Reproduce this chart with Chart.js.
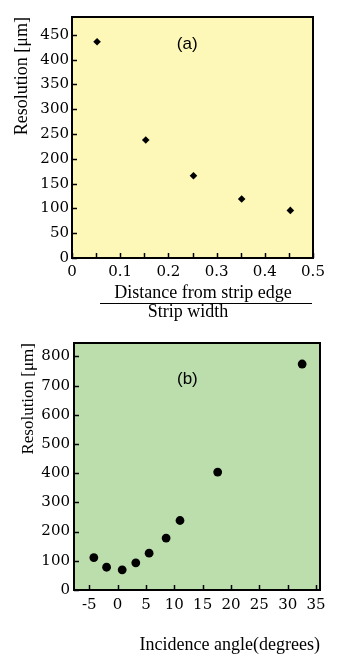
<!DOCTYPE html>
<html>
<head>
<meta charset="utf-8">
<script src="https://cdn.jsdelivr.net/npm/chart.js@4.4.1/dist/chart.umd.min.js"></script>
<style>
  html, body { margin: 0; padding: 0; background: #fff; }
  .panel { position: absolute; left: 0; }
  #edgeChart { top: 0; }
  #angleChart { top: 330px; }
</style>
</head>
<body>
<canvas id="edgeChart" class="panel" width="344" height="330"></canvas>
<canvas id="angleChart" class="panel" width="344" height="326"></canvas>
<script>
// ---- panel (a): resolution vs. distance from strip edge / strip width ----
const edgeX = [0.052, 0.153, 0.252, 0.352, 0.453];
const edgeRes = [436, 238, 166, 119, 96];
const edgeXTicks = [0, 0.05, 0.1, 0.15, 0.2, 0.25, 0.3, 0.35, 0.4, 0.45, 0.5];
const edgeXLabels = ["0", "", "0.1", "", "0.2", "", "0.3", "", "0.4", "", "0.5"];
const edgeYTicks = [0, 50, 100, 150, 200, 250, 300, 350, 400, 450];

// ---- panel (b): resolution vs. incidence angle ----
const angleX = [-4.2, -1.95, 0.8, 3.2, 5.55, 8.55, 11.0, 17.65, 32.55];
const angleRes = [111, 78, 69, 93, 126, 178, 238, 404, 774];
const angleXTicks = [-5, 0, 5, 10, 15, 20, 25, 30, 35];
const angleYTicks = [0, 100, 200, 300, 400, 500, 600, 700, 800];

const tickFont = { family: "'DejaVu Serif'", size: 15 };
const titleFamily = "'Liberation Serif', 'Times New Roman', serif";

// background, boxed frame, inward tick marks and the panel tag
const framePlugin = {
  id: "frame",
  beforeDraw(chart, args, opts) {
    const { ctx, chartArea: a } = chart;
    ctx.save();
    ctx.fillStyle = opts.fill;
    ctx.fillRect(a.left, a.top, a.right - a.left, a.bottom - a.top);
    ctx.restore();
  },
  afterDraw(chart, args, opts) {
    const { ctx, chartArea: a, scales } = chart;
    ctx.save();
    ctx.strokeStyle = "#000";
    ctx.lineWidth = 1.5;
    scales.x.ticks.forEach(function (t) {
      const px = Math.round(scales.x.getPixelForValue(t.value)) + 0.5;
      ctx.beginPath();
      ctx.moveTo(px, a.bottom);
      ctx.lineTo(px, a.bottom - 5);
      ctx.stroke();
    });
    scales.y.ticks.forEach(function (t) {
      const py = Math.round(scales.y.getPixelForValue(t.value)) + 0.5;
      ctx.beginPath();
      ctx.moveTo(a.left, py);
      ctx.lineTo(a.left + 5, py);
      ctx.stroke();
    });
    ctx.lineWidth = 2;
    ctx.strokeRect(a.left, a.top, a.right - a.left, a.bottom - a.top);

    ctx.fillStyle = "#000";
    ctx.font = "17px 'Liberation Sans', Arial, sans-serif";
    ctx.textAlign = "center";
    ctx.textBaseline = "middle";
    ctx.fillText(opts.tag, scales.x.getPixelForValue(opts.tagAt[0]), scales.y.getPixelForValue(opts.tagAt[1]));

    // fraction-style x title for panel (a)
    if (opts.fraction) {
      ctx.font = "18px " + titleFamily;
      ctx.textBaseline = "alphabetic";
      ctx.fillText(opts.fraction[0], a.left + 131, a.bottom + 40);
      ctx.fillText(opts.fraction[1], a.left + 116, a.bottom + 59);
      ctx.lineWidth = 1;
      ctx.beginPath();
      ctx.moveTo(a.left + 28, a.bottom + 45.5);
      ctx.lineTo(a.right - 1, a.bottom + 45.5);
      ctx.stroke();
    }
    ctx.restore();
  }
};

function fixTicks(list) {
  return function (scale) {
    scale.ticks = list.map(function (v) { return { value: v }; });
  };
}

// ========== PANEL (a) ==========
new Chart(document.getElementById("edgeChart"), {
  type: "scatter",
  data: {
    datasets: [{
      data: edgeX.map(function (x, i) { return { x: x, y: edgeRes[i] }; }),
      pointStyle: "rectRot",
      pointRadius: 3.8,
      backgroundColor: "#000",
      borderWidth: 0
    }]
  },
  options: {
    responsive: false,
    animation: false,
    events: [],
    layout: { padding: { top: 17, right: 31, left: 0, bottom: 0 } },
    plugins: {
      legend: { display: false },
      tooltip: { enabled: false },
      frame: {
        fill: "#fdf8b8",
        tag: "(a)",
        tagAt: [0.239, 430],
        fraction: ["Distance from strip edge", "Strip width"]
      }
    },
    scales: {
      x: {
        type: "linear",
        min: 0,
        max: 0.5,
        afterBuildTicks: fixTicks(edgeXTicks),
        afterFit: function (s) { s.height = 72; },
        grid: { display: false, drawTicks: false },
        border: { display: false },
        ticks: {
          autoSkip: false,
          maxRotation: 0,
          padding: 5,
          color: "#000",
          font: tickFont,
          callback: function (v, i) { return edgeXLabels[i]; }
        }
      },
      y: {
        min: 0,
        max: 486,
        afterBuildTicks: fixTicks(edgeYTicks),
        afterFit: function (s) { s.width = 72; },
        grid: { display: false, drawTicks: false },
        border: { display: false },
        ticks: { autoSkip: false, padding: 3, color: "#000", font: tickFont },
        title: {
          display: true,
          text: "Resolution [\u03bcm]",
          align: "end",
          color: "#000",
          font: { family: titleFamily, size: 18 },
          padding: { top: 11, bottom: 0 }
        }
      }
    }
  },
  plugins: [framePlugin]
});

// ========== PANEL (b) ==========
new Chart(document.getElementById("angleChart"), {
  type: "scatter",
  data: {
    datasets: [{
      data: angleX.map(function (x, i) { return { x: x, y: angleRes[i] }; }),
      pointStyle: "circle",
      pointRadius: 4.4,
      backgroundColor: "#000",
      borderWidth: 0
    }]
  },
  options: {
    responsive: false,
    animation: false,
    events: [],
    layout: { padding: { top: 13, right: 24, left: 0, bottom: 0 } },
    plugins: {
      legend: { display: false },
      tooltip: { enabled: false },
      frame: {
        fill: "#bcdead",
        tag: "(b)",
        tagAt: [12.3, 720]
      }
    },
    scales: {
      x: {
        type: "linear",
        min: -7.7,
        max: 35.7,
        afterBuildTicks: fixTicks(angleXTicks),
        afterFit: function (s) { s.height = 66; },
        grid: { display: false, drawTicks: false },
        border: { display: false },
        ticks: { autoSkip: false, maxRotation: 0, padding: 6, color: "#000", font: tickFont },
        title: {
          display: true,
          text: "Incidence angle(degrees)",
          align: "end",
          color: "#000",
          font: { family: titleFamily, size: 18 },
          padding: { top: 0, bottom: 0 }
        }
      },
      y: {
        min: 0,
        max: 846,
        afterBuildTicks: fixTicks(angleYTicks),
        afterFit: function (s) { s.width = 74; },
        grid: { display: false, drawTicks: false },
        border: { display: false },
        ticks: { autoSkip: false, padding: 4, color: "#000", font: tickFont },
        title: {
          display: true,
          text: "Resolution [\u03bcm]",
          align: "end",
          color: "#000",
          font: { family: titleFamily, size: 17 },
          padding: { top: 18, bottom: 0 }
        }
      }
    }
  },
  plugins: [framePlugin]
});
</script>
</body>
</html>
